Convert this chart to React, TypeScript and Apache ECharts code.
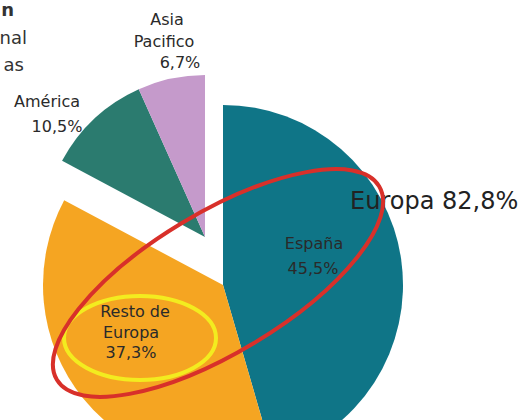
import React, { useEffect, useRef } from "react";
import * as echarts from "echarts";

// ---- data ----
const regions = ["España", "Resto de Europa", "América", "Asia Pacifico"];
const shares = [45.5, 37.3, 10.5, 6.7];
const labelLines = [["España"], ["Resto de", "Europa"], ["América"], ["Asia", "Pacifico"]];
const europeGroup = ["España", "Resto de Europa"];
const otherGroup = ["América", "Asia Pacifico"];
const europeTitle = "Europa";
const titleFragments = ["n", "nal", "as"];

// ---- styles / layout ----
const colors = ["#0f7587", "#f5a522", "#2b7b6f", "#c59acb"];
const labelPos: [number, number][][] = [
  [[314, 243], [313, 268]],
  [[135, 311], [131, 332], [131, 352]],
  [[47, 101], [57, 126]],
  [[167, 19], [164, 41], [180, 62]],
];
const titlePos: [number, number, string][] = [
  [14, 9, "bold"],
  [27, 37, "normal"],
  [24, 64, "normal"],
];

const fmt = (v: number) => v.toFixed(1).replace(".", ",") + "%";

export default function App() {
  const ref = useRef<HTMLDivElement>(null);
  useEffect(() => {
    if (!ref.current) return;
    const chart = echarts.init(ref.current, undefined, { renderer: "svg" });

    const pieData = (visible: string[]) =>
      regions.map((name, i) => ({
        name,
        value: shares[i],
        itemStyle: { color: visible.includes(name) ? colors[i] : "rgba(0,0,0,0)" },
      }));

    const basePie = {
      type: "pie",
      startAngle: 90,
      clockwise: true,
      silent: true,
      label: { show: false },
      labelLine: { show: false },
      emphasis: { disabled: true },
      itemStyle: { borderWidth: 0 },
      avoidLabelOverlap: false,
    };

    const font = '16px "DejaVu Sans"';
    const texts: any[] = [];
    regions.forEach((name, i) => {
      const lines = [...labelLines[i], fmt(shares[i])];
      lines.forEach((t, j) => {
        const [x, y] = labelPos[i][j];
        texts.push({
          type: "text",
          x,
          y,
          z: 50,
          style: { text: t, fill: "#2a2a2a", font, align: "center", verticalAlign: "middle" },
        });
      });
    });

    const europeTotal = regions
      .map((n, i) => (europeGroup.includes(n) ? shares[i] : 0))
      .reduce((a, b) => a + b, 0);

    texts.push({
      type: "text",
      x: 350,
      y: 201,
      z: 50,
      style: {
        text: `${europeTitle} ${fmt(europeTotal)}`,
        fill: "#222",
        font: '24px "DejaVu Sans"',
        align: "left",
        verticalAlign: "middle",
      },
    });

    titleFragments.forEach((t, k) => {
      const [x, y, w] = titlePos[k];
      texts.push({
        type: "text",
        x,
        y,
        z: 50,
        style: {
          text: t,
          fill: "#333",
          font: `${w} 18px "DejaVu Sans"`,
          align: "right",
          verticalAlign: "middle",
        },
      });
    });

    chart.setOption({
      animation: false,
      backgroundColor: "#ffffff",
      series: [
        { ...basePie, center: [223, 285], radius: 180, data: pieData(europeGroup) },
        { ...basePie, center: [205, 237], radius: 162, data: pieData(otherGroup) },
      ],
      graphic: [
        ...texts,
        {
          type: "ellipse",
          x: 140,
          y: 338,
          z: 60,
          shape: { cx: 0, cy: 0, rx: 76, ry: 42 },
          style: { fill: "transparent", stroke: "#f3ec1f", lineWidth: 4 },
        },
        {
          type: "ellipse",
          x: 218,
          y: 283,
          rotation: (31 * Math.PI) / 180,
          z: 70,
          shape: { cx: 0, cy: 0, rx: 188, ry: 70 },
          style: { fill: "transparent", stroke: "#d8302a", lineWidth: 4 },
        },
      ],
    });

    return () => chart.dispose();
  }, []);

  return (
    <div
      ref={ref}
      style={{ position: "fixed", left: 0, top: 0, width: 523, height: 420, background: "#fff" }}
    />
  );
}
